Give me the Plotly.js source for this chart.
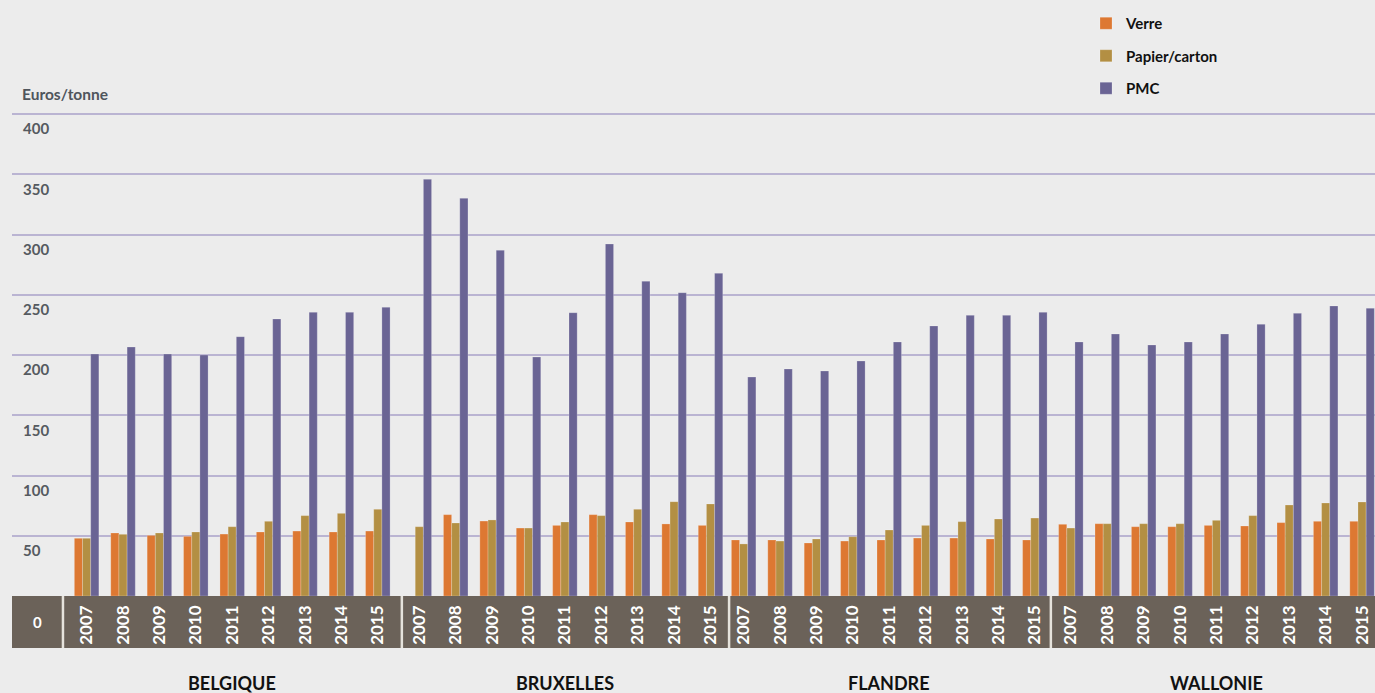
<!DOCTYPE html>
<html>
<head>
<meta charset="utf-8">
<script src="https://cdn.plot.ly/plotly-3.0.1.min.js"></script>
<style>
  html, body { margin: 0; padding: 0; background: #ececec; }
  #chart { width: 1375px; height: 693px; }
</style>
</head>
<body>
<div id="chart"></div>
<script>
// Coût de la collecte sélective, en euros par tonne, par région et par année
const regions = ['BELGIQUE', 'BRUXELLES', 'FLANDRE', 'WALLONIE'];
const years = ['2007', '2008', '2009', '2010', '2011', '2012', '2013', '2014', '2015'];

const verreBelgique   = [47.9, 52.3, 50.3, 49.5, 51.4, 53.1, 53.9, 53.1, 53.9];
const verreBruxelles  = [0, 67.5, 62.2, 56.4, 58.6, 67.5, 61.4, 59.8, 58.6];
const verreFlandre    = [46.5, 46.5, 44.0, 45.6, 46.5, 48.1, 48.1, 47.3, 46.5];
const verreWallonie   = [59.5, 60.0, 57.5, 57.5, 58.6, 58.1, 60.9, 62.0, 62.0];

const papierBelgique  = [47.9, 51.2, 52.3, 53.1, 57.5, 62.0, 66.7, 68.6, 71.9];
const papierBruxelles = [57.5, 60.6, 63.1, 56.4, 61.4, 66.7, 71.9, 78.3, 76.4];
const papierFlandre   = [43.2, 45.6, 47.3, 49.2, 54.8, 58.6, 61.7, 63.9, 64.7];
const papierWallonie  = [56.4, 60.0, 60.0, 60.0, 62.8, 66.7, 75.5, 77.2, 78.0];

const pmcBelgique     = [200.8, 206.6, 200.8, 200.0, 215.2, 229.9, 235.4, 235.4, 239.6];
const pmcBruxelles    = [345.8, 330.0, 286.9, 198.3, 235.1, 292.1, 261.2, 251.7, 267.8];
const pmcFlandre      = [181.7, 188.4, 186.7, 195.0, 210.8, 224.1, 232.9, 232.9, 235.4];
const pmcWallonie     = [210.8, 217.4, 208.3, 210.8, 217.4, 225.5, 234.6, 240.7, 238.8];

const yTicks = [50, 100, 150, 200, 250, 300, 350, 400];

// Horizontal layout of the year slots (one unit = one year slot)
const groupStart = [2.05, 11.19, 20.1, 29.09];
const dividerPos = [1.40, 10.71, 19.70, 28.54];
const xMax = 37.445;

const colors = { verre: '#dd7832', papier: '#b38f43', pmc: '#6a6494' };
const FONT = 'Lato, "Open Sans", sans-serif';

const xPos = [];
const xTickText = [];
regions.forEach((r, g) => {
  years.forEach((y, j) => {
    xPos.push(groupStart[g] + j);
    xTickText.push(y);
  });
});

const verre = [].concat(verreBelgique, verreBruxelles, verreFlandre, verreWallonie);
const papier = [].concat(papierBelgique, papierBruxelles, papierFlandre, papierWallonie);
const pmc = [].concat(pmcBelgique, pmcBruxelles, pmcFlandre, pmcWallonie);

function barTrace(name, values, color, group) {
  return {
    type: 'bar',
    name: name,
    x: xPos,
    y: values,
    legendgroup: group,
    marker: { color: color, line: { color: 'rgba(255,255,255,0.35)', width: 0.6 } },
    hoverinfo: 'x+y+name'
  };
}

const data = [
  barTrace('Verre', verre, colors.verre, 'g1'),
  barTrace('Papier/carton', papier, colors.papier, 'g2'),
  barTrace('PMC', pmc, colors.pmc, 'g3')
];

const plotTop = 100, plotBottom = 596, bandBottom = 648;
const plotH = plotBottom - plotTop;
const pxPerUnit = 482 / 400;
const yMax = plotH / pxPerUnit;
const bandY = -(bandBottom - plotBottom) / plotH;

const shapes = [
  { type: 'rect', xref: 'paper', yref: 'paper', x0: 0, x1: 1, y0: bandY, y1: 0,
    fillcolor: '#6b6259', line: { width: 0 }, layer: 'below' }
];
dividerPos.forEach(d => {
  const px = d / xMax;
  shapes.push({ type: 'line', xref: 'paper', yref: 'paper', x0: px, x1: px, y0: bandY, y1: 0,
    line: { color: '#e6e3dc', width: 2.5 }, layer: 'below' });
});

const annotations = [
  { text: 'Euros/tonne', xref: 'paper', yref: 'paper', x: 8 / 1363, y: (plotBottom - 94) / plotH,
    xanchor: 'left', yanchor: 'middle', showarrow: false,
    font: { family: FONT, size: 15.5, color: '#4f555c', weight: 700 } },
  { text: '0', xref: 'paper', yref: 'paper', x: (37 - 12) / 1363, y: (plotBottom - 622) / plotH,
    xanchor: 'center', yanchor: 'middle', showarrow: false,
    font: { family: FONT, size: 15, color: '#ffffff', weight: 700 } }
];
regions.forEach((r, g) => {
  annotations.push({
    text: r, xref: 'x', yref: 'paper', x: groupStart[g] + (years.length - 1) / 2,
    y: (plotBottom - 683) / plotH, xanchor: 'center', yanchor: 'middle', showarrow: false,
    font: { family: FONT, size: 18, color: '#111111', weight: 700 }
  });
});

const layout = {
  width: 1375,
  height: 693,
  margin: { l: 12, r: 0, t: plotTop, b: 693 - plotBottom },
  paper_bgcolor: '#ececec',
  plot_bgcolor: '#ececec',
  barmode: 'group',
  bargap: 0.26,
  bargroupgap: 0,
  showlegend: true,
  legend: {
    x: (1086 - 12) / 1363, xanchor: 'left',
    y: (plotBottom - 7) / plotH, yanchor: 'top',
    orientation: 'v',
    traceorder: 'grouped',
    tracegroupgap: 10,
    bgcolor: 'rgba(0,0,0,0)',
    font: { family: FONT, size: 15, color: '#111111', weight: 700 }
  },
  xaxis: {
    range: [0, xMax],
    tickmode: 'array',
    tickvals: xPos,
    ticktext: xTickText,
    tickangle: -90,
    ticks: '',
    ticklabelstandoff: 5,
    tickfont: { family: FONT, size: 17, color: '#ffffff', weight: 700 },
    showgrid: false,
    zeroline: false,
    showline: false,
    fixedrange: true
  },
  yaxis: {
    range: [0, yMax],
    tickmode: 'array',
    tickvals: yTicks,
    ticktext: yTicks.map(String),
    ticks: '',
    ticklabelposition: 'inside',
    ticklabelstandoff: 8,
    ticklabelshift: 15,
    tickfont: { family: FONT, size: 15, color: '#555a60', weight: 700 },
    showgrid: true,
    gridcolor: '#bab4d2',
    gridwidth: 2,
    zeroline: false,
    showline: false,
    fixedrange: true
  },
  shapes: shapes,
  annotations: annotations,
  font: { family: FONT }
};

Plotly.newPlot('chart', data, layout, { displayModeBar: false, staticPlot: true });
</script>
</body>
</html>
